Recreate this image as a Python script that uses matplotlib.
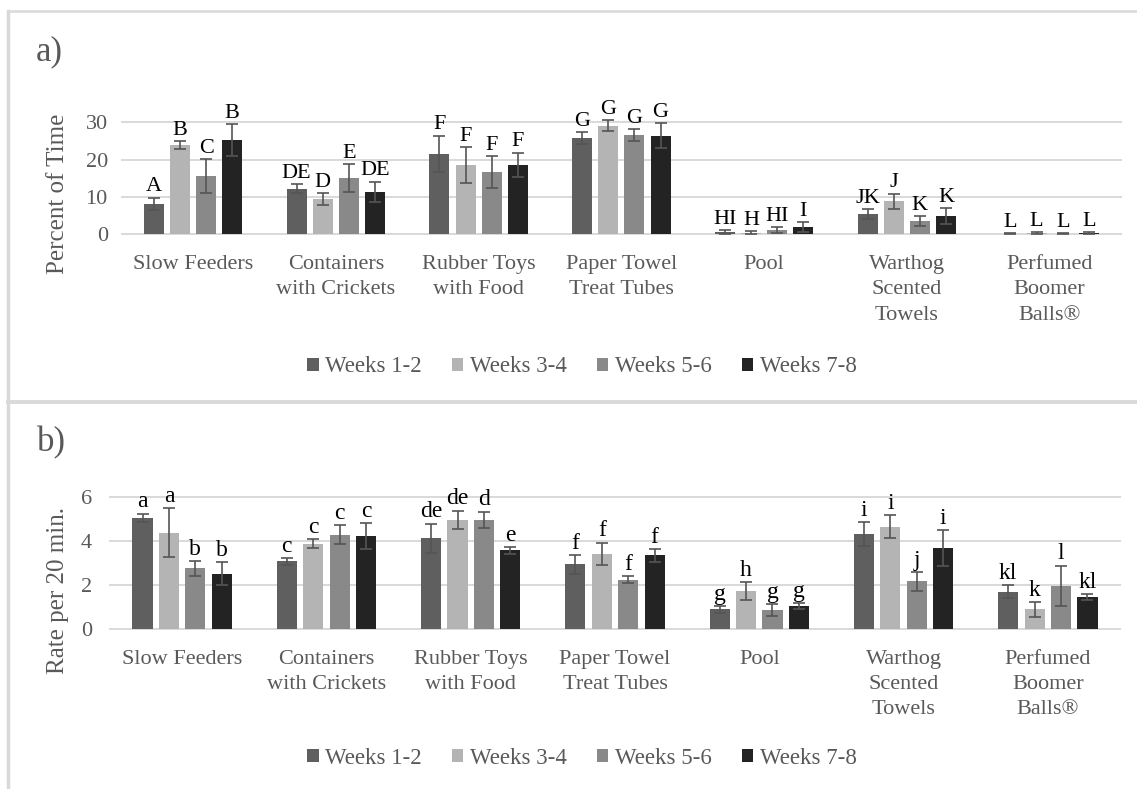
import numpy as np
import matplotlib
matplotlib.use("Agg")
import matplotlib.pyplot as plt
from matplotlib.patches import Patch
from matplotlib.lines import Line2D

plt.rcParams['font.family'] = ['Liberation Serif', 'DejaVu Serif']

categories = ['Slow Feeders', 'Containers\nwith Crickets', 'Rubber Toys\nwith Food',
              'Paper Towel\nTreat Tubes', 'Pool', 'Warthog\nScented\nTowels',
              'Perfumed\nBoomer\nBalls®']
series_names = ['Weeks 1-2', 'Weeks 3-4', 'Weeks 5-6', 'Weeks 7-8']
colors = ['#5f5f5f', '#b4b4b4', '#898989', '#232323']

# a) percent of time
time_1_2 = [8.1, 12.2, 21.5, 25.8, 0.6, 5.5, 0.2]
time_3_4 = [23.9, 9.5, 18.6, 29.1, 0.4, 8.9, 0.3]
time_5_6 = [15.6, 15.0, 16.7, 26.6, 1.2, 3.6, 0.2]
time_7_8 = [25.3, 11.4, 18.6, 26.4, 1.9, 4.9, 0.4]
time_err_1_2 = [1.7, 1.2, 4.9, 1.6, 0.5, 1.3, 0.2]
time_err_3_4 = [1.1, 1.6, 4.8, 1.5, 0.4, 2.0, 0.2]
time_err_5_6 = [4.5, 3.7, 4.3, 1.5, 0.8, 1.3, 0.2]
time_err_7_8 = [4.2, 2.7, 3.3, 3.3, 1.4, 2.2, 0.2]
time_letters = [['A', 'DE', 'F', 'G', 'HI', 'JK', 'L'],
                ['B', 'D', 'F', 'G', 'H', 'J', 'L'],
                ['C', 'E', 'F', 'G', 'HI', 'K', 'L'],
                ['B', 'DE', 'F', 'G', 'I', 'K', 'L']]

# b) rate per 20 min
rate_1_2 = [5.05, 3.07, 4.12, 2.93, 0.88, 4.32, 1.69]
rate_3_4 = [4.38, 3.88, 4.95, 3.42, 1.72, 4.64, 0.88]
rate_5_6 = [2.75, 4.29, 4.95, 2.23, 0.84, 2.16, 1.96]
rate_7_8 = [2.51, 4.21, 3.57, 3.34, 1.03, 3.66, 1.44]
rate_err_1_2 = [0.19, 0.15, 0.67, 0.43, 0.15, 0.55, 0.28]
rate_err_3_4 = [1.10, 0.20, 0.43, 0.50, 0.41, 0.52, 0.34]
rate_err_5_6 = [0.33, 0.44, 0.38, 0.16, 0.27, 0.43, 0.91]
rate_err_7_8 = [0.54, 0.59, 0.16, 0.30, 0.15, 0.82, 0.15]
rate_letters = [['a', 'c', 'de', 'f', 'g', 'i', 'kl'],
                ['a', 'c', 'de', 'f', 'h', 'i', 'k'],
                ['b', 'c', 'd', 'f', 'g', 'j', 'l'],
                ['b', 'c', 'e', 'f', 'g', 'i', 'kl']]

W, H = 1137, 789
fig = plt.figure(figsize=(W / 100, H / 100), dpi=100)
txt_gray = '#595959'
grid_gray = '#d9d9d9'


def px_box(left, right, y0, ytop):
    # pixel coords (from top-left) -> figure fraction
    return [left / W, 1 - y0 / H, (right - left) / W, (y0 - ytop) / H]


def draw_panel(ax, vals, errs, letters, yticks, ylabel, lab_x, lab_y, ypad, letter_size):
    n = len(categories)
    x = np.arange(n)
    width = 0.14
    step = 0.183
    for j in range(4):
        pos = x + (j - 1.5) * step
        ax.bar(pos, vals[j], width=width, color=colors[j], zorder=3)
        ax.errorbar(pos, vals[j], yerr=errs[j], fmt='none', ecolor='#555555',
                    elinewidth=1.2, capsize=4, capthick=1.2, zorder=4, clip_on=False)
        for k in range(n):
            ax.annotate(letters[j][k], (pos[k], vals[j][k] + errs[j][k]),
                        xytext=(0, 4.5), textcoords='offset points',
                        ha='center', va='baseline', fontsize=letter_size,
                        color='black', annotation_clip=False)
    ax.set_xlim(-0.5, n - 0.5)
    ax.set_ylim(0, yticks[-1])
    ax.set_yticks(yticks)
    ax.set_xticks(x)
    ax.set_xticklabels(categories, linespacing=1.45)
    for s in ax.spines.values():
        s.set_visible(False)
    for t in yticks:
        ax.axhline(t, color=grid_gray, linewidth=1.4, zorder=1, clip_on=False)
    ax.tick_params(axis='both', length=0, labelsize=16, colors=txt_gray)
    ax.tick_params(axis='x', pad=15)
    ax.tick_params(axis='y', pad=ypad)
    fig.text(lab_x / W, 1 - lab_y / H, ylabel, rotation=90, ha='center', va='center',
             fontsize=18, color=txt_gray)


ax1 = fig.add_axes(px_box(121.7, 1121, 234.3, 122.3))
draw_panel(ax1, [time_1_2, time_3_4, time_5_6, time_7_8],
           [time_err_1_2, time_err_3_4, time_err_5_6, time_err_7_8],
           time_letters, [0, 10, 20, 30], 'Percent of Time', 58, 194, 10, 16)

ax2 = fig.add_axes(px_box(110, 1120, 628.7, 497))
draw_panel(ax2, [rate_1_2, rate_3_4, rate_5_6, rate_7_8],
           [rate_err_1_2, rate_err_3_4, rate_err_5_6, rate_err_7_8],
           rate_letters, [0, 2, 4, 6], 'Rate per 20 min.', 58, 591, 13, 17)

# panel tags
fig.text(49 / W, 1 - 52 / H, 'a)', fontsize=25, color=txt_gray, ha='center', va='center')
fig.text(51 / W, 1 - 443 / H, 'b)', fontsize=25, color=txt_gray, ha='center', va='center')

# legends
handles = [Patch(facecolor=c, edgecolor='none') for c in colors]
for ycen in (367, 758):
    fig.legend(handles, series_names, loc='center', ncol=4, frameon=False,
               bbox_to_anchor=(582 / W, 1 - ycen / H), bbox_transform=fig.transFigure,
               fontsize=16.5, labelcolor=txt_gray, handlelength=0.5, handleheight=0.5,
               handletextpad=0.3, columnspacing=1.3)

# panel borders
fig.add_artist(Line2D([8 / W, 8 / W], [1 - 11 / H, 0], transform=fig.transFigure,
                      color=grid_gray, linewidth=2.5))
fig.add_artist(Line2D([8 / W, 1], [1 - 11 / H, 1 - 11 / H], transform=fig.transFigure,
                      color=grid_gray, linewidth=1.8))
fig.add_artist(Line2D([8 / W, 1], [1 - 402 / H, 1 - 402 / H], transform=fig.transFigure,
                      color=grid_gray, linewidth=2.8))

fig.savefig('out.png', dpi=100, facecolor='white')
